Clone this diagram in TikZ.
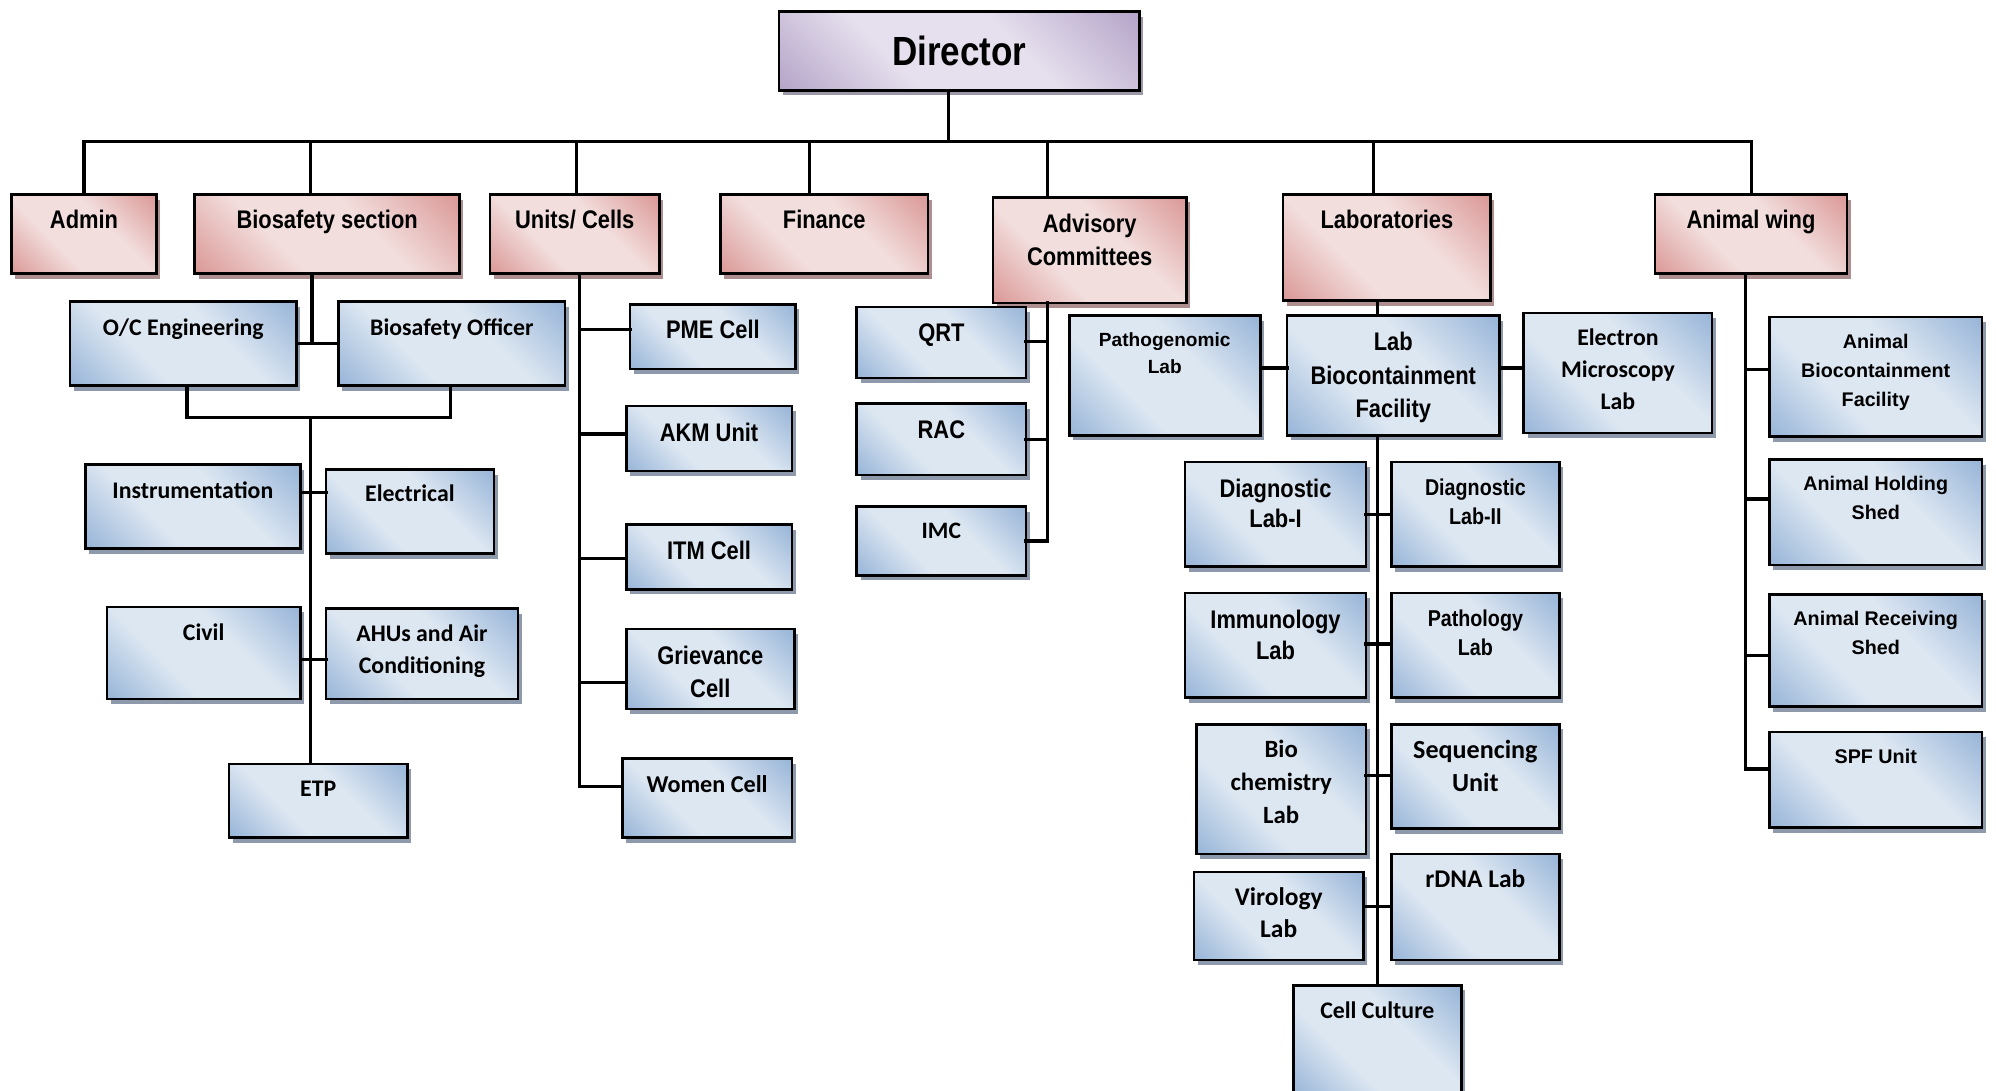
\documentclass[tikz,border=0pt]{standalone}
\usepackage{fontspec}
\usetikzlibrary{shadows}
\newfontfamily\narrowfont[FakeStretch=0.86]{Liberation Sans}
\newfontfamily\calfont{Carlito}
\newfontfamily\arialfont{Liberation Sans}
\newcommand\fN[2]{\narrowfont\bfseries\fontsize{#1}{#2}\selectfont}
\newcommand\fC[2]{\calfont\bfseries\fontsize{#1}{#2}\selectfont}
\newcommand\fA[2]{\arialfont\bfseries\fontsize{#1}{#2}\selectfont}
\definecolor{bdark}{HTML}{95B3D7}
\definecolor{blight}{HTML}{DDE7F2}
\definecolor{pdark}{HTML}{D99694}
\definecolor{plight}{HTML}{F2DEDD}
\definecolor{vdark}{HTML}{B3A2C7}
\definecolor{vlight}{HTML}{E6E0EE}
\definecolor{bshadow}{HTML}{8E9AAC}
\definecolor{pshadow}{HTML}{AE8E8E}
\definecolor{vshadow}{HTML}{9C98A8}
\pgfdeclarehorizontalshading{bluesh}{100bp}{color(0bp)=(bdark); color(14bp)=(bdark); color(38bp)=(blight); color(60bp)=(blight); color(86bp)=(bdark); color(100bp)=(bdark)}
\pgfdeclarehorizontalshading{pinksh}{100bp}{color(0bp)=(pdark); color(14bp)=(pdark); color(38bp)=(plight); color(60bp)=(plight); color(86bp)=(pdark); color(100bp)=(pdark)}
\pgfdeclarehorizontalshading{violetsh}{100bp}{color(0bp)=(vdark); color(14bp)=(vdark); color(38bp)=(vlight); color(60bp)=(vlight); color(86bp)=(vdark); color(100bp)=(vdark)}
\tikzset{
  basebox/.style={draw=black, line width=2pt, inner sep=0pt, outer sep=0pt, shade, shading angle=45},
  bluebox/.style={basebox, shading=bluesh, drop shadow={shadow xshift=3pt, shadow yshift=-4pt, fill=bshadow, opacity=1}},
  pinkbox/.style={basebox, shading=pinksh, drop shadow={shadow xshift=3pt, shadow yshift=-4pt, fill=pshadow, opacity=1}},
  violetbox/.style={basebox, shading=violetsh, drop shadow={shadow xshift=3pt, shadow yshift=-4pt, fill=vshadow, opacity=1}},
  lbl/.style={anchor=north, align=center, inner sep=0pt},
  conn/.style={line width=2.6pt, line cap=rect}
}
% style, name, x1, y1, x2, y2, font, text, yshift
\newcommand\mybox[9]{%
  \node[#1, anchor=north west, minimum width={(#5-#3)*1pt}, minimum height={(#6-#4)*1pt},
        label={[lbl, font={#7}, yshift=#9]north:{#8}}] (#2) at (#3,#4) {};}
\begin{document}
\begin{tikzpicture}[x=1pt,y=-1pt]
\useasboundingbox (0,0) rectangle (1568,857);
\coordinate (bL) at (66,111);
\coordinate (bR) at (1376,111);
\coordinate (tDir) at (745,111);
\coordinate (tBio) at (244,111);
\coordinate (tUni) at (453,111);
\coordinate (tFin) at (636,111);
\coordinate (tAdv) at (823,111);
\coordinate (tLab) at (1079,111);
% ---------- boxes ----------
\node[violetbox, anchor=north west, minimum width=283pt, minimum height=62pt, font={\fN{32}{38}}] (director) at (612,9) {Director};
\mybox{pinkbox}{admin}{9}{153}{123}{215}{\fN{20}{26}}{Admin}{-12pt}
\mybox{pinkbox}{biosec}{153}{153}{361}{215}{\fN{20}{26}}{Biosafety section}{-12pt}
\mybox{pinkbox}{units}{385}{153}{518}{215}{\fN{20}{26}}{Units/ Cells}{-12pt}
\mybox{pinkbox}{finance}{566}{153}{729}{215}{\fN{20}{26}}{Finance}{-12pt}
\mybox{pinkbox}{advisory}{780}{155}{932}{238}{\fN{20}{26}}{Advisory\\Committees}{-13pt}
\mybox{pinkbox}{labs}{1008}{153}{1171}{236}{\fN{20}{26}}{Laboratories}{-12pt}
\mybox{pinkbox}{animal}{1300}{153}{1451}{215}{\fN{20}{26}}{Animal wing}{-12pt}
% biosafety subtree
\mybox{bluebox}{oc}{55}{237}{233}{303}{\fC{18.7}{24}}{O/C Engineering}{-13pt}
\mybox{bluebox}{bo}{266}{237}{444}{303}{\fC{18.7}{24}}{Biosafety Officer}{-13pt}
\mybox{bluebox}{instr}{67}{365}{236}{431}{\fC{18.7}{24}}{Instrumentation}{-13pt}
\mybox{bluebox}{elec}{256}{369}{388}{435}{\fC{18.7}{24}}{Electrical}{-12pt}
\mybox{bluebox}{civil}{84}{477}{236}{549}{\fC{18.7}{24}}{Civil}{-13pt}
\mybox{bluebox}{ahu}{256}{478}{407}{549}{\fC{18.7}{25}}{AHUs and Air\\Conditioning}{-13pt}
\mybox{bluebox}{etp}{180}{600}{320}{658}{\fC{18.7}{24}}{ETP}{-13pt}
% units subtree
\mybox{bluebox}{pme}{495}{239}{625}{290}{\fN{20}{26}}{PME Cell}{-12pt}
\mybox{bluebox}{akm}{492}{319}{622}{370}{\fN{20}{26}}{AKM Unit}{-13pt}
\mybox{bluebox}{itm}{492}{412}{622}{463}{\fN{20}{26}}{ITM Cell}{-13pt}
\mybox{bluebox}{griev}{492}{494}{624}{557}{\fN{20}{26}}{Grievance\\Cell}{-13pt}
\mybox{bluebox}{women}{489}{596}{622}{658}{\fC{19}{24}}{Women Cell}{-13pt}
% advisory subtree
\mybox{bluebox}{qrt}{673}{241}{806}{297}{\fN{20}{26}}{QRT}{-13pt}
\mybox{bluebox}{rac}{673}{317}{806}{373}{\fN{20}{26}}{RAC}{-13pt}
\mybox{bluebox}{imc}{673}{398}{806}{452}{\fC{18.5}{24}}{IMC}{-13pt}
% laboratories subtree
\mybox{bluebox}{patho}{840}{248}{990}{342}{\fA{15}{21}}{Pathogenomic\\Lab}{-13pt}
\mybox{bluebox}{lbf}{1011}{248}{1178}{342}{\fN{20}{26}}{Lab\\Biocontainment\\Facility}{-13pt}
\mybox{bluebox}{em}{1197}{246}{1345}{340}{\fC{18.7}{25}}{Electron\\Microscopy\\Lab}{-12pt}
\mybox{bluebox}{dla}{931}{363}{1073}{445}{\fN{20}{24}}{Diagnostic\\Lab-I}{-13pt}
\mybox{bluebox}{dlb}{1093}{363}{1225}{445}{\fN{18}{23}}{Diagnostic\\Lab-II}{-13pt}
\mybox{bluebox}{immu}{931}{466}{1073}{548}{\fN{20}{24}}{Immunology\\Lab}{-13pt}
\mybox{bluebox}{path}{1093}{466}{1225}{548}{\fN{18}{23}}{Pathology\\Lab}{-13pt}
\mybox{bluebox}{bioc}{940}{569}{1073}{671}{\fC{19.5}{26}}{Bio\\chemistry\\Lab}{-12pt}
\mybox{bluebox}{seq}{1093}{569}{1225}{651}{\fC{20.5}{26}}{Sequencing\\Unit}{-12pt}
\mybox{bluebox}{viro}{938}{685}{1071}{754}{\fC{20}{25}}{Virology\\Lab}{-12pt}
\mybox{bluebox}{rdna}{1093}{671}{1225}{754}{\fC{20}{25}}{rDNA Lab}{-12pt}
\mybox{bluebox}{cell}{1016}{774}{1148}{862}{\fC{18.7}{24}}{Cell Culture}{-13pt}
% animal subtree
\mybox{bluebox}{abf}{1390}{249}{1557}{343}{\fA{15.5}{23}}{Animal\\Biocontainment\\Facility}{-13pt}
\mybox{bluebox}{ahs}{1390}{361}{1557}{444}{\fA{15.5}{23}}{Animal Holding\\Shed}{-13pt}
\mybox{bluebox}{ars}{1390}{467}{1557}{555}{\fA{15.5}{23}}{Animal Receiving\\Shed}{-13pt}
\mybox{bluebox}{spf}{1390}{575}{1557}{650}{\fA{15.5}{23}}{SPF Unit}{-13pt}
% ---------- connectors ----------
\draw[conn] (bL) -- (bR);
\draw[conn] (tDir) -- (tDir |- director.south);
\draw[conn] (bL) -- (bL |- admin.north);
\draw[conn] (tBio) -- (tBio |- biosec.north);
\draw[conn] (tUni) -- (tUni |- units.north);
\draw[conn] (tFin) -- (tFin |- finance.north);
\draw[conn] (tAdv) -- (tAdv |- advisory.north);
\draw[conn] (tLab) -- (tLab |- labs.north);
\draw[conn] (bR) -- (bR |- animal.north);
% biosafety
\coordinate (bsJ) at (245,270);
\draw[conn] (bsJ |- biosec.south) -- (bsJ);
\draw[conn] (oc.east |- bsJ) -- (bo.west |- bsJ);
\coordinate (brL) at (147,328);
\coordinate (brR) at (354,328);
\coordinate (brM) at (244,328);
\draw[conn] (brL |- oc.south) -- (brL) -- (brR) -- (brR |- bo.south);
\draw[conn] (brM) -- (brM |- etp.north);
\coordinate (r1) at (244,387);
\draw[conn] (instr.east |- r1) -- (elec.west |- r1);
\coordinate (r2) at (244,518);
\draw[conn] (civil.east |- r2) -- (ahu.west |- r2);
% units
\coordinate (u0) at (455,618);
\draw[conn] (u0 |- units.south) -- (u0);
\coordinate (u1) at (455,259);
\coordinate (u2) at (455,341);
\coordinate (u3) at (455,439);
\coordinate (u4) at (455,536);
\draw[conn] (u1) -- (u1 -| pme.west);
\draw[conn] (u2) -- (u2 -| akm.west);
\draw[conn] (u3) -- (u3 -| itm.west);
\draw[conn] (u4) -- (u4 -| griev.west);
\draw[conn] (u0) -- (u0 -| women.west);
% advisory
\coordinate (a0) at (823,425);
\draw[conn] (a0 |- advisory.south) -- (a0);
\coordinate (a1) at (823,268);
\coordinate (a2) at (823,345);
\draw[conn] (a1) -- (a1 -| qrt.east);
\draw[conn] (a2) -- (a2 -| rac.east);
\draw[conn] (a0) -- (a0 -| imc.east);
% laboratories
\coordinate (l0) at (1082,300);
\draw[conn] (l0 |- labs.south) -- (l0 |- lbf.north);
\coordinate (lh) at (1082,289);
\draw[conn] (patho.east |- lh) -- (lbf.west |- lh);
\draw[conn] (lbf.east |- lh) -- (em.west |- lh);
\draw[conn] (l0 |- lbf.south) -- (l0 |- cell.north);
\coordinate (l1) at (1082,404);
\coordinate (l2) at (1082,506);
\coordinate (l3) at (1082,609);
\coordinate (l4) at (1082,712);
\draw[conn] (l1 -| dla.east) -- (l1 -| dlb.west);
\draw[conn] (l2 -| immu.east) -- (l2 -| path.west);
\draw[conn] (l3 -| bioc.east) -- (l3 -| seq.west);
\draw[conn] (l4 -| viro.east) -- (l4 -| rdna.west);
% animal
\coordinate (w0) at (1371,604);
\draw[conn] (w0 |- animal.south) -- (w0);
\coordinate (w1) at (1371,290);
\coordinate (w2) at (1371,392);
\coordinate (w3) at (1371,515);
\draw[conn] (w1) -- (w1 -| abf.west);
\draw[conn] (w2) -- (w2 -| ahs.west);
\draw[conn] (w3) -- (w3 -| ars.west);
\draw[conn] (w0) -- (w0 -| spf.west);
\end{tikzpicture}
\end{document}
